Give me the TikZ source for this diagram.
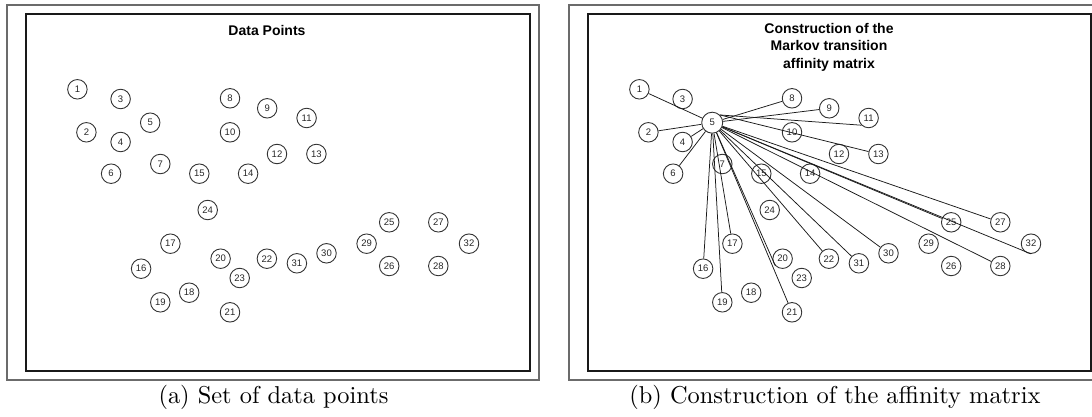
\documentclass[tikz,border=0pt]{standalone}
\usepackage{fontspec}
\newfontfamily\labfont{Liberation Sans}
\tikzset{
  pt/.style={circle, draw=black!80, line width=0.9pt, minimum size=19.5pt, inner sep=0pt,
             font=\labfont\fontsize{9.5}{10}\selectfont, text=black!85},
  rpt5/.style={minimum size=21pt},
  edge/.style={draw=black!90, line width=0.75pt},
  outerframe/.style={draw=black!58, line width=1.4pt},
  innerframe/.style={draw=black!90, line width=1.5pt},
  plottitle/.style={font=\labfont\bfseries\fontsize{14}{17.5}\selectfont, align=center, inner sep=0pt},
  subcaption/.style={anchor=base, scale=2.44, inner sep=0pt},
}
\begin{document}
\begin{tikzpicture}[x=1pt, y=-1pt]
  \useasboundingbox (0,0) rectangle (1092,417);
  \clip (0,0) rectangle (1092,417);

  % panel frames
  \draw[outerframe] (7,5) rectangle (539,380);
  \draw[innerframe] (26,14) rectangle (530,371);
  \draw[outerframe] (569,5) rectangle (1110,380);
  \draw[innerframe] (588,14) rectangle (1091,371);

  % titles
  \node[plottitle] (ta) at (267,30) {Data Points};
  \node[plottitle] (tb) at (829,47) {Construction of the\\Markov transition\\affinity matrix};

  % data points, left panel (a) and shifted copy in right panel (b)
  \foreach \n/\x/\y in {1/77.4/89.3, 2/86.4/132.3, 3/120.6/99, 4/120.6/142, 5/150.2/122.7,
      6/111.1/173.7, 7/160.3/164, 8/230/98.3, 9/267.2/108.3, 10/230/132.3, 11/306.6/118,
      12/277/154, 13/316.4/154, 14/248.1/173.7, 15/199.3/173.7, 16/141.1/268.7,
      17/170.4/243.7, 18/189.2/292.7, 19/160.3/302.3, 20/220.6/258.7, 21/230/312.3,
      22/266.9/258.7, 23/239.7/278, 24/207.7/210, 25/389.2/222.3, 26/389.2/266,
      27/438.3/222.3, 28/438.3/266, 29/366.6/243.7, 30/326.5/253.3, 31/296.9/263.3,
      32/469/243.7}{
    \node[pt] (a\n) at (\x,\y) {\n};
    \node[pt, rpt\n/.try] (b\n) at (\x+562,\y) {\n};
  }

  % affinities of point 5
  \foreach \t in {1,2,4,6,8,9,16,17,19,21,22,25,27,28,30,31}
    \draw[edge] (b5) -- (b\t);
  \draw[edge] (b5.north east) -- (b13);
  \draw[edge] (b5.north east) -- (b11.south west);
  \draw[edge] (b5) -- (b20.south west);
  \draw[edge] (b5) -- (b32.south);

  % sub-captions
  \node[subcaption] (ca) at (273.5,403) {(a) Set of data points};
  \node[subcaption] (cb) at (834.9,403) {(b) Construction of the affinity matrix};
\end{tikzpicture}
\end{document}
